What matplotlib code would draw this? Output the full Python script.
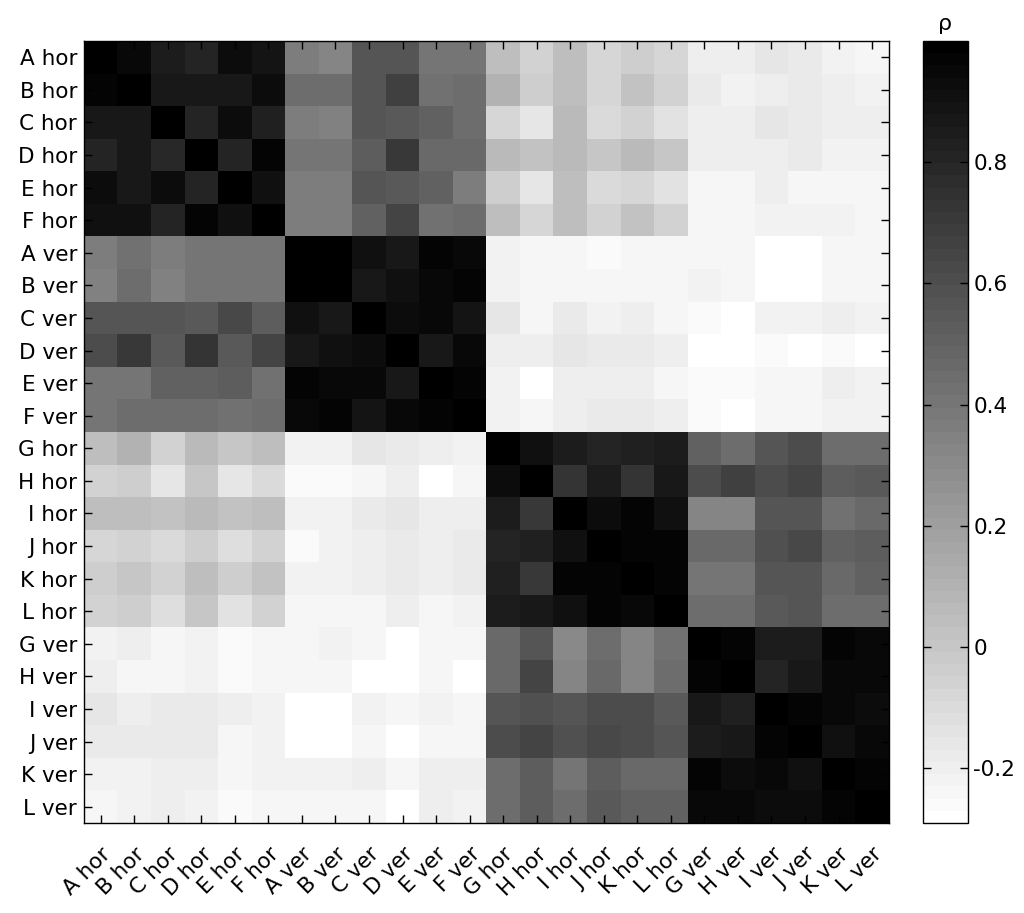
import numpy as np
import matplotlib
matplotlib.use("Agg")
import matplotlib.pyplot as plt

labels = ["A hor", "B hor", "C hor", "D hor", "E hor", "F hor",
          "A ver", "B ver", "C ver", "D ver", "E ver", "F ver",
          "G hor", "H hor", "I hor", "J hor", "K hor", "L hor",
          "G ver", "H ver", "I ver", "J ver", "K ver", "L ver"]

row_A_hor = [1.00, 0.95, 0.85, 0.80, 0.92, 0.89, 0.37, 0.32, 0.57, 0.57, 0.40, 0.40, 0.05, -0.05, 0.05, -0.08, -0.03, -0.08, -0.20, -0.20, -0.15, -0.18, -0.22, -0.23]
row_B_hor = [0.96, 1.00, 0.86, 0.87, 0.87, 0.92, 0.45, 0.45, 0.57, 0.67, 0.42, 0.45, 0.10, -0.03, 0.05, -0.08, 0.02, -0.05, -0.18, -0.22, -0.19, -0.18, -0.20, -0.21]
row_C_hor = [0.86, 0.86, 1.00, 0.80, 0.92, 0.82, 0.37, 0.35, 0.57, 0.55, 0.50, 0.45, -0.08, -0.16, 0.06, -0.10, -0.05, -0.13, -0.20, -0.20, -0.15, -0.18, -0.19, -0.20]
row_D_hor = [0.81, 0.86, 0.79, 1.00, 0.80, 0.96, 0.40, 0.40, 0.52, 0.70, 0.47, 0.47, 0.07, 0.02, 0.07, 0.00, 0.07, 0.01, -0.20, -0.20, -0.19, -0.18, -0.21, -0.21]
row_E_hor = [0.92, 0.87, 0.92, 0.80, 1.00, 0.90, 0.37, 0.37, 0.57, 0.55, 0.50, 0.37, -0.03, -0.15, 0.05, -0.10, -0.08, -0.14, -0.24, -0.24, -0.20, -0.23, -0.23, -0.24]
row_F_hor = [0.90, 0.91, 0.81, 0.96, 0.90, 1.00, 0.37, 0.37, 0.50, 0.65, 0.42, 0.45, 0.05, -0.08, 0.05, -0.05, 0.02, -0.05, -0.23, -0.23, -0.22, -0.22, -0.22, -0.23]
row_A_ver = [0.37, 0.42, 0.37, 0.40, 0.40, 0.40, 1.00, 1.00, 0.90, 0.86, 0.96, 0.95, -0.22, -0.24, -0.23, -0.25, -0.24, -0.24, -0.24, -0.24, -0.28, -0.28, -0.23, -0.23]
row_B_ver = [0.35, 0.45, 0.35, 0.40, 0.40, 0.40, 1.00, 1.00, 0.86, 0.90, 0.95, 0.96, -0.22, -0.24, -0.23, -0.23, -0.23, -0.24, -0.21, -0.24, -0.28, -0.28, -0.23, -0.23]
row_C_ver = [0.57, 0.57, 0.57, 0.55, 0.62, 0.52, 0.90, 0.87, 1.00, 0.92, 0.94, 0.89, -0.16, -0.23, -0.18, -0.21, -0.19, -0.23, -0.25, -0.28, -0.22, -0.22, -0.20, -0.22]
row_D_ver = [0.60, 0.70, 0.55, 0.72, 0.55, 0.65, 0.87, 0.90, 0.92, 1.00, 0.86, 0.95, -0.19, -0.19, -0.16, -0.18, -0.18, -0.19, -0.28, -0.28, -0.25, -0.28, -0.25, -0.28]
row_E_ver = [0.40, 0.40, 0.50, 0.50, 0.52, 0.42, 0.96, 0.95, 0.94, 0.86, 1.00, 0.96, -0.22, -0.27, -0.20, -0.20, -0.19, -0.23, -0.25, -0.25, -0.23, -0.23, -0.20, -0.22]
row_F_ver = [0.40, 0.45, 0.45, 0.45, 0.42, 0.45, 0.95, 0.96, 0.89, 0.95, 0.96, 1.00, -0.22, -0.23, -0.19, -0.18, -0.18, -0.20, -0.25, -0.28, -0.24, -0.24, -0.21, -0.22]
row_G_hor = [0.05, 0.10, -0.05, 0.07, 0.00, 0.05, -0.22, -0.22, -0.15, -0.18, -0.20, -0.22, 1.00, 0.91, 0.85, 0.80, 0.82, 0.85, 0.50, 0.45, 0.57, 0.60, 0.45, 0.45]
row_H_hor = [-0.05, -0.03, -0.16, 0.00, -0.15, -0.09, -0.25, -0.25, -0.24, -0.20, -0.27, -0.23, 0.92, 1.00, 0.72, 0.84, 0.72, 0.87, 0.60, 0.67, 0.60, 0.65, 0.52, 0.55]
row_I_hor = [0.05, 0.05, 0.02, 0.07, 0.02, 0.05, -0.22, -0.22, -0.18, -0.16, -0.20, -0.20, 0.84, 0.70, 1.00, 0.92, 0.97, 0.90, 0.32, 0.32, 0.57, 0.57, 0.42, 0.47]
row_J_hor = [-0.08, -0.06, -0.10, -0.03, -0.11, -0.06, -0.25, -0.22, -0.19, -0.18, -0.20, -0.18, 0.80, 0.83, 0.91, 1.00, 0.96, 0.97, 0.47, 0.47, 0.59, 0.62, 0.50, 0.52]
row_K_hor = [-0.03, 0.00, -0.05, 0.05, -0.04, 0.02, -0.22, -0.22, -0.19, -0.18, -0.19, -0.18, 0.82, 0.70, 0.97, 0.96, 1.00, 0.96, 0.40, 0.40, 0.57, 0.57, 0.47, 0.50]
row_L_hor = [-0.06, -0.03, -0.11, 0.01, -0.13, -0.06, -0.24, -0.24, -0.23, -0.20, -0.23, -0.21, 0.85, 0.86, 0.91, 0.96, 0.95, 1.00, 0.45, 0.45, 0.55, 0.57, 0.45, 0.45]
row_G_ver = [-0.22, -0.19, -0.23, -0.22, -0.25, -0.24, -0.24, -0.21, -0.24, -0.28, -0.24, -0.24, 0.47, 0.57, 0.30, 0.45, 0.32, 0.42, 1.00, 0.97, 0.85, 0.84, 0.96, 0.95]
row_H_ver = [-0.20, -0.23, -0.23, -0.22, -0.25, -0.24, -0.24, -0.24, -0.28, -0.28, -0.24, -0.28, 0.47, 0.65, 0.32, 0.47, 0.32, 0.44, 0.97, 1.00, 0.81, 0.86, 0.94, 0.95]
row_I_ver = [-0.16, -0.19, -0.17, -0.18, -0.19, -0.22, -0.28, -0.28, -0.22, -0.24, -0.22, -0.24, 0.56, 0.59, 0.57, 0.60, 0.60, 0.55, 0.87, 0.83, 1.00, 0.97, 0.95, 0.92]
row_J_ver = [-0.18, -0.18, -0.18, -0.17, -0.23, -0.22, -0.28, -0.28, -0.23, -0.28, -0.23, -0.24, 0.60, 0.65, 0.59, 0.62, 0.60, 0.57, 0.84, 0.86, 0.97, 1.00, 0.91, 0.94]
row_K_ver = [-0.22, -0.21, -0.19, -0.20, -0.23, -0.22, -0.22, -0.22, -0.20, -0.23, -0.19, -0.20, 0.45, 0.52, 0.40, 0.52, 0.47, 0.47, 0.96, 0.92, 0.95, 0.91, 1.00, 0.97]
row_L_ver = [-0.23, -0.21, -0.19, -0.22, -0.25, -0.24, -0.24, -0.24, -0.23, -0.28, -0.19, -0.22, 0.45, 0.52, 0.45, 0.54, 0.50, 0.50, 0.95, 0.95, 0.92, 0.92, 0.97, 1.00]

rho = np.array([row_A_hor, row_B_hor, row_C_hor, row_D_hor, row_E_hor, row_F_hor,
                row_A_ver, row_B_ver, row_C_ver, row_D_ver, row_E_ver, row_F_ver,
                row_G_hor, row_H_hor, row_I_hor, row_J_hor, row_K_hor, row_L_hor,
                row_G_ver, row_H_ver, row_I_ver, row_J_ver, row_K_ver, row_L_ver])

cbar_ticks = [-0.2, 0, 0.2, 0.4, 0.6, 0.8]
cbar_ticklabels = ["-0.2", "0", "0.2", "0.4", "0.6", "0.8"]

plt.rcParams['font.family'] = ['DejaVu Sans']
fig = plt.figure(figsize=(10.24, 9.13), dpi=100)
ax = fig.add_axes([0.082, 0.0986, 0.786, 0.8565])
cax = fig.add_axes([0.901, 0.0986, 0.044, 0.8565])

cmap = plt.get_cmap('gray_r', 64)
im = ax.imshow(rho, cmap=cmap, vmin=-0.29, vmax=1.0, aspect='auto',
               interpolation='nearest')

n = len(labels)
ax.set_xticks(np.arange(n))
ax.set_yticks(np.arange(n))
ax.set_yticklabels(labels, fontsize=15.5)
ax.set_xticklabels(labels, fontsize=15.5, rotation=45, ha='right', va='top',
                   rotation_mode='anchor')
ax.tick_params(direction='in', length=6, width=1, top=True, right=True,
               labeltop=False, labelright=False)
ax.tick_params(axis='y', pad=5)
ax.tick_params(axis='x', pad=15)
for s in ax.spines.values():
    s.set_linewidth(1)

cb = fig.colorbar(im, cax=cax)
cb.set_ticks(cbar_ticks)
cb.set_ticklabels(cbar_ticklabels)
cax.tick_params(direction='in', length=6, width=1, left=True, right=True,
                labelsize=15.5, pad=4)
cb.outline.set_linewidth(1)
cax.set_title('ρ', fontsize=16, pad=8)

fig.savefig('out.png', dpi=100)
